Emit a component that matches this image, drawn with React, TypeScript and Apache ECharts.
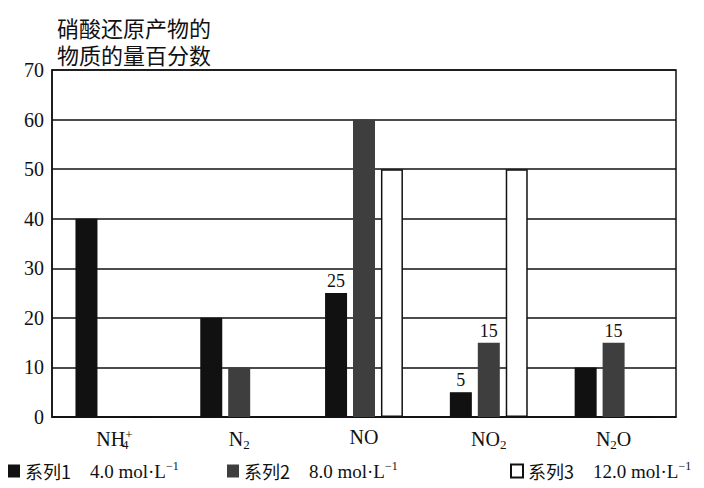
import React, { useEffect, useRef } from "react";
import * as echarts from "echarts";

const categories = ["NH4+", "N2", "NO", "NO2", "N2O"];
const seriesNames = ["系列1", "系列2", "系列3"];
const concentrations = ["4.0", "8.0", "12.0"];
const series1 = [40, 20, 25, 5, 10];
const series2 = [0, 10, 60, 15, 15];
const series3 = [0, 0, 50, 50, 0];
const labeled1 = [false, false, true, true, false];
const labeled2 = [false, false, false, true, true];
const labeled3 = [false, false, false, false, false];
const yTicks = [0, 10, 20, 30, 40, 50, 60, 70];
const titleLines = ["硝酸还原产物的", "物质的量百分数"];

const serif = "Liberation Serif";
const cjk = "Noto Sans CJK SC";

const catRich: Record<string, string> = {
  "NH4+": "NH{st|4}{sp|+}",
  N2: "N{sb|2}",
  NO: "NO",
  NO2: "NO{sb|2}",
  N2O: "N{sb|2}O",
};

function buildData(values: number[], labeled: boolean[]) {
  return values.map((v, i) => ({
    value: v,
    label: { show: labeled[i] && v > 0 },
  }));
}

export default function App() {
  const ref = useRef<HTMLDivElement>(null);
  useEffect(() => {
    if (!ref.current) return;
    const chart = echarts.init(ref.current, null, { renderer: "svg" });
    const colors = ["#111111", "#3e3e3e", "#ffffff"];
    const all = [series1, series2, series3];
    const labs = [labeled1, labeled2, labeled3];
    const legendLeft = [8, 227, 510];
    const subStyle = {
      fontFamily: serif,
      fontSize: 13,
      color: "#111",
      padding: [11, 0, 0, 0],
    };
    chart.setOption({
      animation: false,
      backgroundColor: "#ffffff",
      title: titleLines.map((t, i) => ({
        text: t,
        left: 57,
        top: 15 + i * 27,
        padding: 0,
        textStyle: {
          fontFamily: cjk,
          fontSize: 22,
          fontWeight: "normal",
          color: "#111",
          lineHeight: 24,
        },
      })),
      grid: {
        left: 52,
        right: 28,
        top: 70,
        bottom: 71,
        show: true,
        borderColor: "#111",
        borderWidth: 1.5,
        backgroundColor: "transparent",
      },
      legend: seriesNames.map((n, i) => ({
        data: [n],
        left: legendLeft[i],
        top: 460,
        padding: 0,
        icon: "rect",
        itemWidth: 12,
        itemHeight: 13,
        itemGap: 0,
        formatter: (name: string) =>
          `{c|${name}}{n|    ${concentrations[i]} mol·L}{sp|−1}`,
        textStyle: {
          rich: {
            c: { fontFamily: cjk, fontSize: 18, color: "#111" },
            n: { fontFamily: serif, fontSize: 19, color: "#111" },
            sp: {
              fontFamily: serif,
              fontSize: 12,
              color: "#111",
              padding: [0, 0, 10, 0],
            },
          },
        },
      })),
      xAxis: {
        type: "category",
        data: categories,
        axisTick: { show: false },
        axisLine: { lineStyle: { color: "#111", width: 1.5 } },
        axisLabel: {
          interval: 0,
          margin: 10,
          formatter: (v: string) => catRich[v] || v,
          fontFamily: serif,
          fontSize: 20,
          color: "#111",
          rich: {
            st: { ...subStyle, width: 0 },
            sb: subStyle,
            sp: {
              fontFamily: serif,
              fontSize: 13,
              color: "#111",
              padding: [0, 0, 10, 0],
            },
          },
        },
      },
      yAxis: {
        type: "value",
        min: 0,
        max: 70,
        interval: 10,
        axisLine: { show: true, lineStyle: { color: "#111", width: 1.5 } },
        axisTick: { show: false },
        axisLabel: {
          fontFamily: serif,
          fontSize: 20,
          color: "#111",
          margin: 8,
          formatter: (v: number) => (yTicks.includes(v) ? String(v) : ""),
        },
        splitLine: { lineStyle: { color: "#111", width: 1.5 } },
      },
      series: seriesNames.map((n, i) => ({
        name: n,
        type: "bar",
        barWidth: 22,
        barGap: "27%",
        data: buildData(all[i], labs[i]),
        itemStyle: {
          color: colors[i],
          borderColor: "#111",
          borderWidth: i === 2 ? 1.5 : 0,
        },
        label: {
          position: "top",
          distance: 3,
          fontFamily: serif,
          fontSize: 18,
          color: "#111",
        },
      })),
    });
    return () => chart.dispose();
  }, []);
  return (
    <div
      ref={ref}
      style={{ position: "fixed", left: 0, top: 0, width: 704, height: 488 }}
    />
  );
}
